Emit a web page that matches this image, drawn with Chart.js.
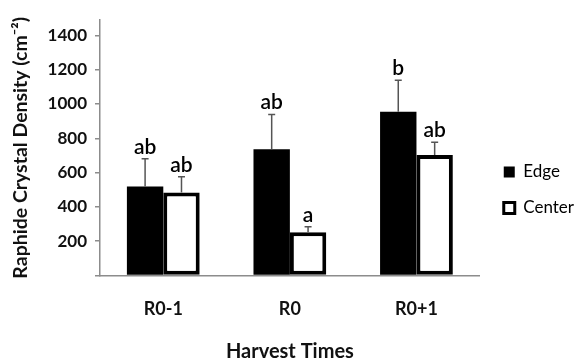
<!DOCTYPE html>
<html>
<head>
<meta charset="utf-8">
<script src="https://cdn.jsdelivr.net/npm/chart.js@4/dist/chart.umd.min.js"></script>
<style>
  html, body { margin: 0; padding: 0; background: #ffffff; }
  #wrap { width: 579px; height: 360px; position: relative; }
</style>
</head>
<body>
<div id="wrap"><canvas id="c" width="579" height="360"></canvas></div>
<script>
const categories = ['R0-1', 'R0', 'R0+1'];
const edgeValues = [519, 736, 955];
const centerValues = [483, 252, 703];
const edgeErrors = [161, 203, 184];
const centerErrors = [92, 32, 74];
const edgeLetters = ['ab', 'ab', 'b'];
const centerLetters = ['ab', 'a', 'ab'];
const yTickValues = [0, 200, 400, 600, 800, 1000, 1200, 1400];
const yAxisMax = 1490;

const errors = [edgeErrors, centerErrors];
const letters = [edgeLetters, centerLetters];

const FONT = 'Lato, "Open Sans", sans-serif';

const errorBarPlugin = {
  id: 'errorBars',
  afterDatasetsDraw(chart) {
    const ctx = chart.ctx;
    const yScale = chart.scales.y;
    chart.data.datasets.forEach((ds, di) => {
      const meta = chart.getDatasetMeta(di);
      meta.data.forEach((bar, j) => {
        const v = ds.data[j];
        const e = errors[di][j];
        const yTop = yScale.getPixelForValue(v + e);
        const yBar = yScale.getPixelForValue(v);
        ctx.save();
        ctx.strokeStyle = '#555555';
        ctx.lineWidth = 1.5;
        ctx.beginPath();
        ctx.moveTo(bar.x, yBar);
        ctx.lineTo(bar.x, yTop);
        ctx.moveTo(bar.x - 3.5, yTop);
        ctx.lineTo(bar.x + 3.5, yTop);
        ctx.stroke();
        ctx.fillStyle = '#000000';
        ctx.font = '600 21px ' + FONT;
        ctx.textAlign = 'center';
        ctx.textBaseline = 'alphabetic';
        ctx.fillText(letters[di][j], bar.x, yTop - 5);
        ctx.restore();
      });
    });
  }
};

const legendShift = {
  id: 'legendShift',
  afterLayout(chart) {
    const l = chart.legend;
    if (!l) return;
    l.left += 5; l.right += 5;
  }
};

new Chart(document.getElementById('c'), {
  type: 'bar',
  data: {
    labels: categories,
    datasets: [
      {
        label: 'Edge',
        data: edgeValues,
        backgroundColor: '#000000',
        borderColor: '#000000',
        borderWidth: 0,
        categoryPercentage: 0.575,
        barPercentage: 1.0
      },
      {
        label: 'Center',
        data: centerValues,
        backgroundColor: '#ffffff',
        borderColor: '#000000',
        borderWidth: 4,
        borderSkipped: false,
        categoryPercentage: 0.575,
        barPercentage: 1.0
      }
    ]
  },
  options: {
    responsive: false,
    animation: false,
    devicePixelRatio: 1,
    layout: { padding: { top: 20, left: 0, right: 0, bottom: 0 } },
    plugins: {
      tooltip: { enabled: false },
      legend: {
        position: 'right',
        align: 'center',
        labels: {
          color: '#000000',
          font: { family: FONT, size: 17 },
          boxWidth: 11,
          boxHeight: 11,
          padding: 19,
          generateLabels(chart) {
            return chart.data.datasets.map((ds, i) => ({
              text: ds.label,
              fillStyle: ds.backgroundColor,
              strokeStyle: '#000000',
              lineWidth: i === 1 ? 3 : 0,
              fontColor: '#000000',
              hidden: false,
              datasetIndex: i
            }));
          }
        }
      }
    },
    scales: {
      x: {
        grid: { display: false, drawTicks: false },
        border: { display: true, color: '#8c8c8c', width: 1.5 },
        ticks: {
          color: '#111111',
          font: { family: FONT, size: 18, weight: 'bold' },
          padding: 23
        },
        title: {
          display: true,
          text: 'Harvest Times',
          color: '#111111',
          font: { family: FONT, size: 20, weight: 'bold', lineHeight: 0.85 },
          padding: { top: 0, bottom: 0 }
        }
      },
      y: {
        min: 0,
        max: yAxisMax,
        afterBuildTicks(scale) {
          scale.ticks = yTickValues.map(v => ({ value: v }));
        },
        afterFit(scale) { scale.width = 100; },
        grid: {
          drawOnChartArea: false,
          drawTicks: true,
          tickLength: 5,
          color: '#8c8c8c',
          lineWidth: 1.5
        },
        border: { display: true, color: '#8c8c8c', width: 1.5 },
        ticks: {
          color: '#111111',
          font: { family: FONT, size: 17, weight: 'bold' },
          padding: 8,
          callback(value) { return value === 0 ? '' : String(value); }
        },
        title: {
          display: true,
          text: 'Raphide Crystal Density (cm\u207B\u00B2)',
          color: '#111111',
          font: { family: FONT, size: 19.5, weight: 'bold', lineHeight: 1 },
          padding: { top: 11, bottom: 0 }
        }
      }
    }
  },
  plugins: [errorBarPlugin, legendShift]
});
</script>
</body>
</html>
